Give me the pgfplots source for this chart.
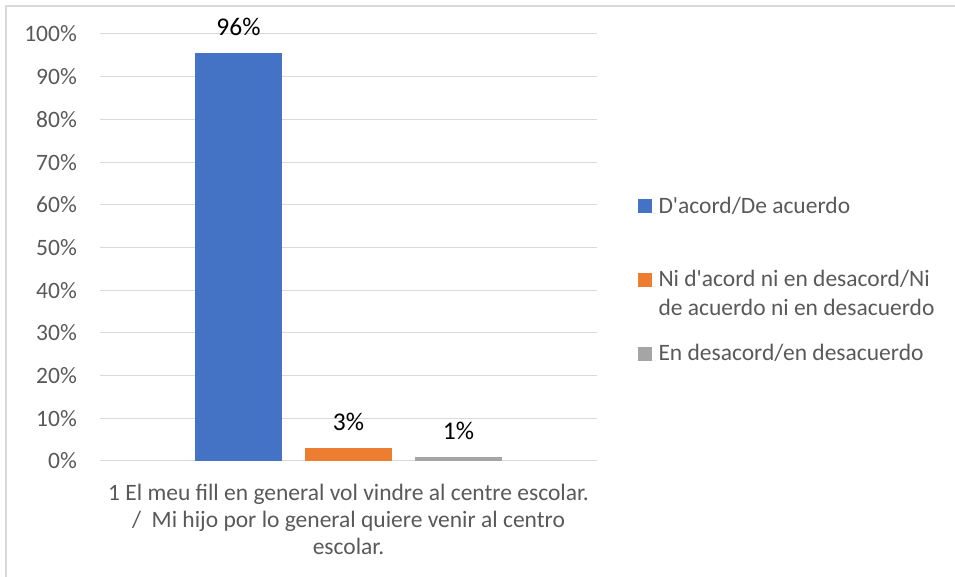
\documentclass[border=0pt]{standalone}
\usepackage{pgfplots}
\pgfplotsset{compat=1.18}
\usepackage{fontspec}
\setmainfont{Carlito}[Ligatures=TeXOff]
\definecolor{cblue}{HTML}{4472C4}
\definecolor{corange}{HTML}{ED7D31}
\definecolor{cgray}{HTML}{A5A5A5}
\definecolor{cgrid}{HTML}{D9D9D9}
\definecolor{ctext}{HTML}{595959}
\newcommand{\chf}{\fontsize{23.5}{28.5}\selectfont}
\newcommand{\chx}{\fontsize{23.5}{27}\selectfont}
\newcommand{\chd}{\fontsize{25.5}{30}\selectfont}
\pgfplotsset{sqleg/.style={legend image code/.code={\fill[##1] (0pt,0pt) rectangle (14pt,14pt); \path (14pt,0pt) -- (18.5pt,0pt);}}}
\begin{document}
\begin{tikzpicture}
\useasboundingbox (0,0) rectangle (955pt,577pt);
\draw[cgrid, line width=1.5pt] (6pt,0) -- (6pt,571pt) -- (955pt,571pt);
\begin{axis}[
  at={(100pt,116pt)}, anchor=south west,
  scale only axis, width=497pt, height=427pt,
  xmin=-0.5, xmax=0.5, ymin=0, ymax=100,
  ytick={0,10,...,100}, xtick={0},
  xticklabels={{1 El meu fill en general vol vindre al centre escolar.\\/\ \ Mi hijo por lo general quiere venir al centro\\escolar.}},
  yticklabel={\pgfmathprintnumber{\tick}\%},
  /pgf/number format/assume math mode=true,
  axis line style={draw=none},
  major tick length=0pt,
  ymajorgrids, grid style={cgrid, line width=1pt},
  tick label style={text=ctext},
  yticklabel style={font=\chf, anchor=east, inner sep=0pt, xshift=-23pt},
  xticklabel style={font=\chx, anchor=north, inner sep=0pt, yshift=-23pt, align=center},
  ybar, bar width=0.177,
  clip=false,
  point meta=y,
  nodes near coords={\pgfmathprintnumber[fixed,precision=0]{\pgfplotspointmeta}\%},
  every node near coord/.append style={font=\chd, text=black, anchor=center, yshift=26pt},
  legend style={at={(1.0825,0.632)}, anchor=north west, draw=none, fill=none,
    inner sep=0pt, outer sep=0pt, row sep=16.5pt,
    cells={anchor=base west, inner sep=0pt, font=\chf, text=ctext}},
]
\addplot[fill=cblue, draw=none, bar shift=-0.2213, sqleg]
  coordinates {(0,95.6)};
\addlegendentry[text height=20pt, text depth=33pt]{D'acord/De acuerdo}
\addplot[fill=corange, draw=none, bar shift=0, sqleg]
  coordinates {(0,3.0)};
\addlegendentry[text height=20pt, text depth=33.5pt]{\begin{tabular}[t]{@{}l@{}}Ni d'acord ni en desacord/Ni\\de acuerdo ni en desacuerdo\end{tabular}}
\addplot[fill=cgray, draw=none, bar shift=0.2213, sqleg]
  coordinates {(0,0.9)};
\addlegendentry[text height=20pt, text depth=8.5pt]{En desacord/en desacuerdo}
\end{axis}
\end{tikzpicture}
\end{document}
